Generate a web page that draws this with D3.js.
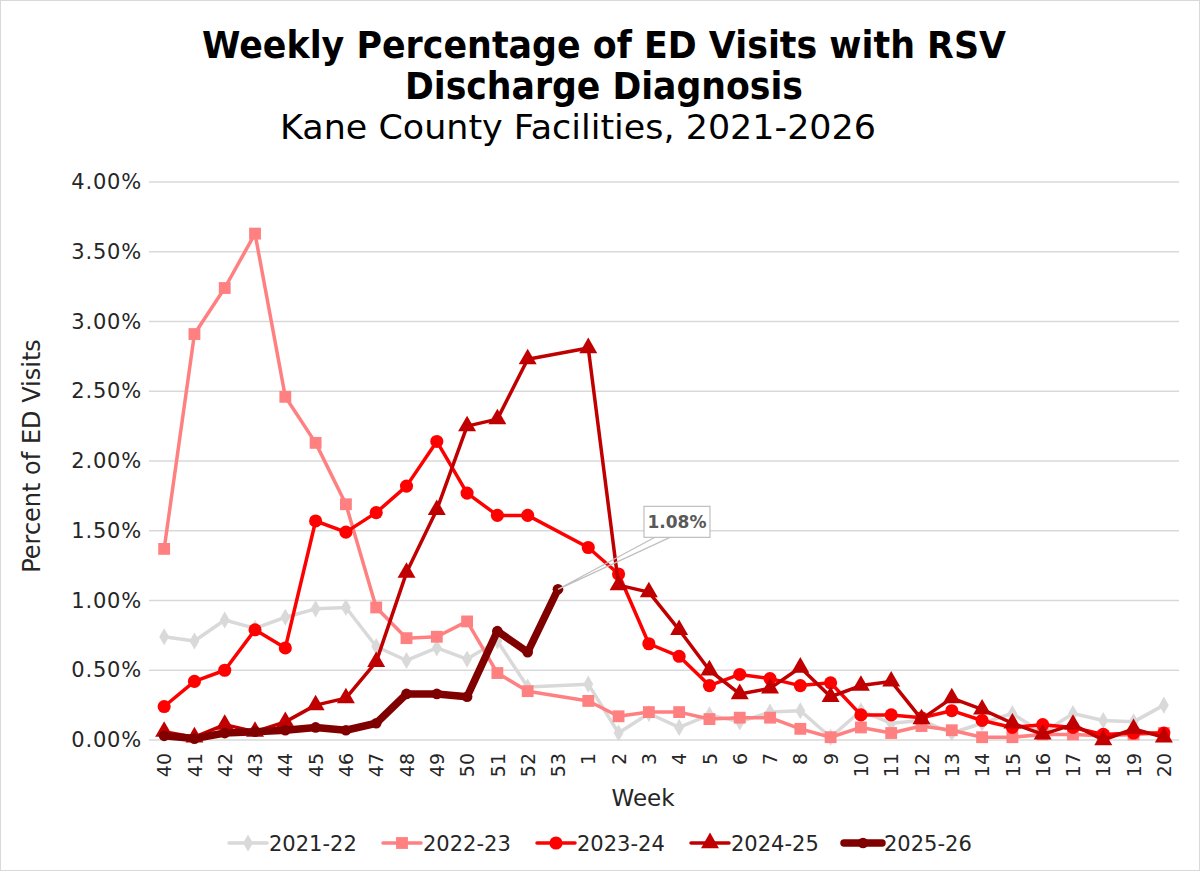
<!DOCTYPE html>
<html>
<head>
<meta charset="utf-8">
<script src="https://cdn.jsdelivr.net/npm/d3@7"></script>
<style>
  body { margin: 0; background: #fff; }
  svg { display: block; font-family: "DejaVu Sans", Verdana, sans-serif; }
</style>
</head>
<body>
<svg id="chart" width="1200" height="872"></svg>
<script>
// weeks on the x axis (season runs week 40 through week 20)
var weeks = ["40","41","42","43","44","45","46","47","48","49","50","51","52","53",
             "1","2","3","4","5","6","7","8","9","10","11","12","13","14","15","16","17","18","19","20"];

var seasons = ["2021-22", "2022-23", "2023-24", "2024-25", "2025-26"];

// percent of ED visits, one value per week (null = no week 53 / not yet reported)
var s2122 = [0.74,0.71,0.86,0.80,0.88,0.94,0.95,0.67,0.57,0.66,0.58,0.71,0.38,null,
             0.40,0.05,0.19,0.09,0.18,0.13,0.20,0.21,0.02,0.21,0.12,0.14,0.05,0.12,0.19,0.05,0.19,0.14,0.13,0.25];
var s2223 = [1.37,2.91,3.24,3.63,2.46,2.13,1.69,0.95,0.73,0.74,0.85,0.48,0.35,null,
             0.28,0.17,0.20,0.20,0.15,0.16,0.16,0.08,0.02,0.09,0.05,0.10,0.07,0.02,0.02,0.04,0.04,0.03,0.04,0.05];
var s2324 = [0.24,0.42,0.50,0.79,0.66,1.57,1.49,1.63,1.82,2.14,1.77,1.61,1.61,null,
             1.38,1.19,0.69,0.60,0.39,0.47,0.44,0.39,0.41,0.18,0.18,0.16,0.21,0.14,0.09,0.11,0.09,0.04,0.05,0.05];
var s2425 = [0.06,0.02,0.11,0.06,0.13,0.25,0.30,0.56,1.20,1.65,2.25,2.30,2.73,null,
             2.81,1.11,1.06,0.79,0.50,0.33,0.37,0.52,0.31,0.39,0.42,0.15,0.30,0.22,0.12,0.04,0.11,0.00,0.08,0.02];
var s2526 = [0.03,0.01,0.05,0.06,0.07,0.09,0.07,0.12,0.33,0.33,0.31,0.78,0.63,1.08];

var yTicks = [0, 0.005, 0.01, 0.015, 0.02, 0.025, 0.03, 0.035, 0.04];

var allSeries = [s2122, s2223, s2324, s2425, s2526];
var colors = ["#d9d9d9", "#ff8080", "#ff0000", "#c00000", "#800000"];
var widths = [3.5, 3.5, 3.5, 3.5, 7.5];
var markers = [d3.symbolDiamond, d3.symbolSquare, d3.symbolCircle, d3.symbolTriangle, d3.symbolCircle];
var markerSizes = [85, 140, 135, 140, 90];

var svg = d3.select("#chart");

// outer border like the Excel chart area
svg.append("rect")
  .attr("x", 0.5).attr("y", 0.5).attr("width", 1199).attr("height", 870)
  .attr("fill", "#fff").attr("stroke", "#d9d9d9");

// scales
var x = d3.scalePoint().domain(weeks).range([149, 1179]).padding(0.5);
var y = d3.scaleLinear().domain([0, 0.04]).range([740, 182]);

// gridlines
svg.append("g").selectAll("line")
  .data(yTicks)
  .join("line")
  .attr("x1", 149).attr("x2", 1179)
  .attr("y1", d => y(d)).attr("y2", d => y(d))
  .attr("stroke", "#d9d9d9").attr("stroke-width", 1.5);

// y axis labels
var yAxis = svg.append("g")
  .attr("transform", "translate(149,0)")
  .call(d3.axisLeft(y).tickValues(yTicks).tickFormat(d3.format(".2%")).tickSize(0).tickPadding(7));
yAxis.select(".domain").remove();
yAxis.selectAll("text")
  .attr("font-size", 21).attr("fill", "#262626")
  .attr("letter-spacing", 0.8)
  .attr("font-family", "DejaVu Sans, sans-serif");

// x axis labels (rotated)
var xAxis = svg.append("g")
  .attr("transform", "translate(0,740)")
  .call(d3.axisBottom(x).tickSize(0));
xAxis.select(".domain").remove();
xAxis.selectAll("text")
  .attr("font-size", 19).attr("fill", "#262626")
  .attr("font-family", "DejaVu Sans, sans-serif")
  .attr("transform", "rotate(-90)")
  .attr("text-anchor", "end")
  .attr("dy", "0.35em")
  .attr("x", -13).attr("y", 0);

// axis titles
svg.append("text")
  .attr("x", 643).attr("y", 806)
  .attr("text-anchor", "middle")
  .attr("font-size", 23).attr("fill", "#262626")
  .text("Week");

svg.append("text")
  .attr("transform", "translate(40,456) rotate(-90)")
  .attr("text-anchor", "middle")
  .attr("font-size", 24).attr("fill", "#262626")
  .text("Percent of ED Visits");

// title
svg.append("text")
  .attr("x", 604).attr("y", 58)
  .attr("text-anchor", "middle")
  .attr("font-size", 37).attr("font-weight", "bold")
  .attr("textLength", 804).attr("lengthAdjust", "spacingAndGlyphs")
  .text("Weekly Percentage of ED Visits with RSV");
svg.append("text")
  .attr("x", 604).attr("y", 99)
  .attr("text-anchor", "middle")
  .attr("font-size", 37).attr("font-weight", "bold")
  .attr("textLength", 398).attr("lengthAdjust", "spacingAndGlyphs")
  .text("Discharge Diagnosis");
svg.append("text")
  .attr("x", 578).attr("y", 139)
  .attr("text-anchor", "middle")
  .attr("font-size", 33)
  .attr("textLength", 596).attr("lengthAdjust", "spacingAndGlyphs")
  .text("Kane County Facilities, 2021-2026");

// series lines + markers
var line = d3.line()
  .x(d => x(d.week))
  .y(d => y(d.value / 100));

allSeries.forEach(function(values, i) {
  var pts = values.map((v, j) => ({ week: weeks[j], value: v }))
    .filter(p => p.value !== null);
  var g = svg.append("g");
  g.append("path")
    .datum(pts)
    .attr("d", line)
    .attr("fill", "none")
    .attr("stroke", colors[i])
    .attr("stroke-width", widths[i])
    .attr("stroke-linejoin", "round")
    .attr("stroke-linecap", "round");
  g.selectAll("path.mk")
    .data(pts)
    .join("path")
    .attr("class", "mk")
    .attr("d", d3.symbol().type(markers[i]).size(markerSizes[i]))
    .attr("transform", d => "translate(" + x(d.week) + "," + y(d.value / 100) + ")")
    .attr("fill", colors[i]);
});

// callout for the latest value
var lastIdx = s2526.length - 1;
var px = x(weeks[lastIdx]), py = y(s2526[lastIdx] / 100);
var bx = px + 86, by = py - 83;
svg.append("path")
  .attr("d", "M" + (bx + 11) + "," + (by + 31) + "L" + px + "," + py + "L" + (bx + 26) + "," + (by + 31))
  .attr("fill", "none").attr("stroke", "#bfbfbf").attr("stroke-width", 1.2);
svg.append("rect")
  .attr("x", bx).attr("y", by).attr("width", 66).attr("height", 31)
  .attr("fill", "#fff").attr("stroke", "#bfbfbf").attr("stroke-width", 1.2);
svg.append("text")
  .attr("x", bx + 33).attr("y", by + 22)
  .attr("text-anchor", "middle")
  .attr("font-size", 17).attr("font-weight", "bold").attr("fill", "#595959")
  .text(d3.format(".2f")(s2526[lastIdx]) + "%");

// legend
var legendX = [229, 383, 537, 691, 844];
var legend = svg.append("g");
seasons.forEach(function(name, i) {
  var lg = legend.append("g").attr("transform", "translate(" + legendX[i] + ",843)");
  lg.append("line")
    .attr("x1", 0).attr("x2", 38)
    .attr("stroke", colors[i]).attr("stroke-width", widths[i])
    .attr("stroke-linecap", "round");
  lg.append("path")
    .attr("d", d3.symbol().type(markers[i]).size(markerSizes[i]))
    .attr("transform", "translate(19,0)")
    .attr("fill", colors[i]);
  lg.append("text")
    .attr("x", 40).attr("y", 0).attr("dy", "0.36em")
    .attr("font-size", 21).attr("fill", "#262626")
    .text(name);
});
</script>
</body>
</html>
